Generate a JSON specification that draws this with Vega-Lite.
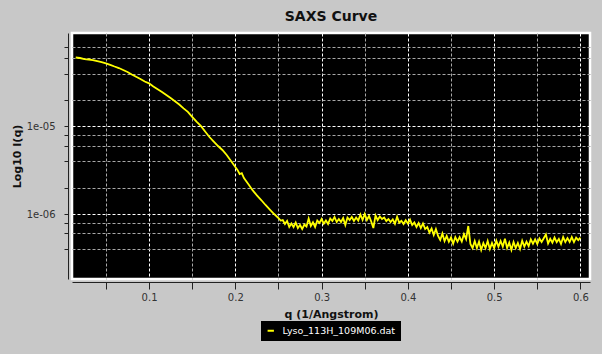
{
  "$schema": "https://vega.github.io/schema/vega-lite/v6.json",
  "width": 518,
  "height": 246,
  "autosize": {"type": "none"},
  "padding": {"left": 72, "top": 33, "right": 12, "bottom": 75},
  "background": "#c8c8c8",
  "title": {"text": "SAXS Curve", "font": "DejaVu Sans", "fontSize": 14, "fontWeight": "bold", "color": "#111111", "offset": 9, "anchor": "middle"},
  "config": {
    "view": {"fill": "#000000", "stroke": "#ffffff", "strokeWidth": 2.5},
    "axis": {"labelFont": "DejaVu Sans", "labelFontSize": 10, "labelColor": "#333333", "titleFont": "DejaVu Sans", "titleFontSize": 11, "titleFontWeight": "bold", "titleColor": "#111111", "domainColor": "#222222", "tickColor": "#222222", "gridDash": [3, 2], "gridWidth": 1}
  },
  "data": {"values": [
    {"q":0.015,"I":6.09e-5},{"q":0.02,"I":6.01e-5},{"q":0.025,"I":5.85e-5},{"q":0.03,"I":5.78e-5},{"q":0.035,"I":5.70e-5},{"q":0.04,"I":5.55e-5},{"q":0.045,"I":5.41e-5},{"q":0.05,"I":5.23e-5},{"q":0.055,"I":5.03e-5},{"q":0.06,"I":4.81e-5},{"q":0.065,"I":4.62e-5},{"q":0.07,"I":4.39e-5},{"q":0.075,"I":4.16e-5},{"q":0.08,"I":3.90e-5},{"q":0.085,"I":3.67e-5},{"q":0.09,"I":3.46e-5},{"q":0.095,"I":3.24e-5},{"q":0.1,"I":3.09e-5},{"q":0.105,"I":2.84e-5},{"q":0.11,"I":2.64e-5},{"q":0.115,"I":2.46e-5},{"q":0.12,"I":2.27e-5},{"q":0.125,"I":2.10e-5},{"q":0.13,"I":1.93e-5},{"q":0.135,"I":1.77e-5},{"q":0.14,"I":1.60e-5},{"q":0.145,"I":1.46e-5},{"q":0.15,"I":1.28e-5},{"q":0.155,"I":1.13e-5},{"q":0.16,"I":1.01e-5},{"q":0.165,"I":8.72e-6},{"q":0.17,"I":7.55e-6},{"q":0.175,"I":6.71e-6},{"q":0.18,"I":5.96e-6},{"q":0.185,"I":5.37e-6},{"q":0.19,"I":4.71e-6},{"q":0.195,"I":4.02e-6},{"q":0.2,"I":3.43e-6},{"q":0.2025,"I":3.18e-6},{"q":0.205,"I":2.86e-6},{"q":0.2075,"I":2.93e-6},{"q":0.21,"I":2.57e-6},{"q":0.215,"I":2.20e-6},{"q":0.22,"I":1.87e-6},{"q":0.225,"I":1.63e-6},{"q":0.23,"I":1.444e-6},{"q":0.235,"I":1.267e-6},{"q":0.24,"I":1.125e-6},{"q":0.245,"I":1.0e-6},{"q":0.25,"I":9.0e-7},
    {"q":0.2525,"I":8.43e-7},{"q":0.255,"I":8.54e-7},{"q":0.2575,"I":7.69e-7},{"q":0.26,"I":8.32e-7},{"q":0.2625,"I":7.11e-7},{"q":0.265,"I":7.80e-7},{"q":0.2675,"I":7.11e-7},{"q":0.27,"I":8.00e-7},{"q":0.2725,"I":6.92e-7},{"q":0.275,"I":7.49e-7},{"q":0.2775,"I":6.74e-7},{"q":0.28,"I":7.59e-7},{"q":0.2825,"I":7.20e-7},{"q":0.285,"I":8.88e-7},{"q":0.2875,"I":7.30e-7},{"q":0.29,"I":8.05e-7},{"q":0.2925,"I":7.11e-7},{"q":0.295,"I":8.43e-7},{"q":0.2975,"I":7.90e-7},{"q":0.3,"I":8.77e-7},
    {"q":0.3025,"I":7.75e-7},{"q":0.305,"I":8.43e-7},{"q":0.3075,"I":7.69e-7},{"q":0.31,"I":8.88e-7},{"q":0.3125,"I":8.32e-7},{"q":0.315,"I":9.24e-7},{"q":0.3175,"I":8.10e-7},{"q":0.32,"I":8.77e-7},{"q":0.3225,"I":8.10e-7},{"q":0.325,"I":9.00e-7},{"q":0.3275,"I":7.49e-7},{"q":0.33,"I":9.12e-7},{"q":0.3325,"I":8.54e-7},{"q":0.335,"I":9.24e-7},{"q":0.3375,"I":8.32e-7},{"q":0.34,"I":9.12e-7},{"q":0.3425,"I":8.43e-7},{"q":0.345,"I":9.87e-7},{"q":0.3475,"I":8.54e-7},{"q":0.35,"I":1.0e-6},
    {"q":0.3525,"I":8.54e-7},{"q":0.355,"I":9.49e-7},{"q":0.3575,"I":8.21e-7},{"q":0.36,"I":6.92e-7},{"q":0.3625,"I":9.61e-7},{"q":0.365,"I":8.54e-7},{"q":0.3675,"I":9.36e-7},{"q":0.37,"I":8.77e-7},{"q":0.3725,"I":9.12e-7},{"q":0.375,"I":8.32e-7},{"q":0.3775,"I":8.77e-7},{"q":0.38,"I":8.10e-7},{"q":0.3825,"I":8.70e-7},{"q":0.385,"I":7.75e-7},{"q":0.3875,"I":9.31e-7},{"q":0.39,"I":7.96e-7},{"q":0.3925,"I":8.37e-7},{"q":0.395,"I":7.69e-7},{"q":0.3975,"I":8.50e-7},{"q":0.4,"I":7.80e-7},
    {"q":0.4025,"I":8.62e-7},{"q":0.405,"I":7.49e-7},{"q":0.4075,"I":8.00e-7},{"q":0.41,"I":7.11e-7},{"q":0.4125,"I":7.90e-7},{"q":0.415,"I":6.92e-7},{"q":0.4175,"I":7.80e-7},{"q":0.42,"I":6.74e-7},{"q":0.4225,"I":7.11e-7},{"q":0.425,"I":6.15e-7},{"q":0.4275,"I":6.83e-7},{"q":0.43,"I":5.76e-7},{"q":0.4325,"I":6.74e-7},{"q":0.435,"I":5.61e-7},{"q":0.4375,"I":5.05e-7},{"q":0.44,"I":5.99e-7},{"q":0.4425,"I":4.92e-7},{"q":0.445,"I":5.61e-7},{"q":0.4475,"I":4.83e-7},{"q":0.45,"I":5.39e-7},
    {"q":0.4525,"I":4.59e-7},{"q":0.455,"I":5.46e-7},{"q":0.4575,"I":4.85e-7},{"q":0.46,"I":5.46e-7},{"q":0.4625,"I":4.85e-7},{"q":0.465,"I":5.91e-7},{"q":0.4675,"I":5.19e-7},{"q":0.47,"I":7.30e-7},{"q":0.4725,"I":4.55e-7},{"q":0.475,"I":4.09e-7},{"q":0.4775,"I":4.92e-7},{"q":0.48,"I":4.09e-7},{"q":0.4825,"I":4.85e-7},{"q":0.485,"I":3.89e-7},{"q":0.4875,"I":4.67e-7},{"q":0.49,"I":4.09e-7},{"q":0.4925,"I":4.92e-7},{"q":0.495,"I":3.99e-7},{"q":0.4975,"I":4.67e-7},{"q":0.5,"I":4.09e-7},
    {"q":0.5025,"I":4.96e-7},{"q":0.505,"I":4.25e-7},{"q":0.5075,"I":4.92e-7},{"q":0.51,"I":4.25e-7},{"q":0.5125,"I":5.22e-7},{"q":0.515,"I":4.09e-7},{"q":0.5175,"I":4.73e-7},{"q":0.52,"I":3.89e-7},{"q":0.5225,"I":4.79e-7},{"q":0.525,"I":4.09e-7},{"q":0.5275,"I":4.67e-7},{"q":0.53,"I":3.99e-7},{"q":0.5325,"I":4.96e-7},{"q":0.535,"I":4.25e-7},{"q":0.5375,"I":4.83e-7},{"q":0.54,"I":4.31e-7},{"q":0.5425,"I":5.15e-7},{"q":0.545,"I":4.59e-7},{"q":0.5475,"I":5.15e-7},{"q":0.55,"I":4.55e-7},
    {"q":0.5525,"I":5.25e-7},{"q":0.555,"I":4.79e-7},{"q":0.5575,"I":5.29e-7},{"q":0.56,"I":5.84e-7},{"q":0.5625,"I":4.60e-7},{"q":0.565,"I":5.22e-7},{"q":0.5675,"I":4.72e-7},{"q":0.57,"I":5.39e-7},{"q":0.5725,"I":4.77e-7},{"q":0.575,"I":5.19e-7},{"q":0.5775,"I":4.55e-7},{"q":0.58,"I":5.46e-7},{"q":0.5825,"I":4.79e-7},{"q":0.585,"I":5.32e-7},{"q":0.5875,"I":4.79e-7},{"q":0.59,"I":5.46e-7},{"q":0.5925,"I":4.79e-7},{"q":0.595,"I":5.39e-7},{"q":0.5975,"I":5.05e-7},{"q":0.6,"I":5.39e-7}
  ]},
  "transform": [{"calculate": "'Lyso_113H_109M06.dat'", "as": "series"}],
  "mark": {"type": "line", "strokeWidth": 1.8, "interpolate": "linear"},
  "encoding": {
    "x": {
      "field": "q", "type": "quantitative", "title": "q (1/Angstrom)",
      "scale": {"domain": [0.0107, 0.6111], "nice": false, "zero": false},
      "axis": {
        "values": [0.05, 0.1, 0.15, 0.2, 0.25, 0.3, 0.35, 0.4, 0.45, 0.5, 0.55, 0.6],
        "labelExpr": "abs(datum.value*10 - round(datum.value*10)) < 0.001 ? format(datum.value, '.1f') : ''",
        "offset": 3, "tickSize": 7, "labelPadding": 3, "titlePadding": 6,
        "gridColor": {"condition": {"test": "abs(datum.value*10 - round(datum.value*10)) < 0.001", "value": "#ffffff"}, "value": "#a8a8a8"},
        "labelFlush": false, "labelOverlap": false
      }
    },
    "y": {
      "field": "I", "type": "quantitative", "title": "Log10 I(q)",
      "scale": {"type": "log", "domain": [1.815e-7, 1.159e-4], "nice": false},
      "axis": {
        "values": [4e-7, 6e-7, 8e-7, 1e-6, 2e-6, 4e-6, 6e-6, 8e-6, 1e-5, 2e-5, 4e-5, 6e-5, 8e-5],
        "labelExpr": "abs(log(datum.value)/LN10 - round(log(datum.value)/LN10)) < 0.001 ? ('1e-0' + (-round(log(datum.value)/LN10))) : ''",
        "offset": 4, "tickSize": 4, "labelPadding": 9, "titlePadding": 4,
        "gridColor": {"condition": {"test": "abs(log(datum.value)/LN10 - round(log(datum.value)/LN10)) < 0.001", "value": "#ffffff"}, "value": "#a8a8a8"},
        "labelOverlap": false, "labelFlush": false
      }
    },
    "color": {
      "field": "series", "type": "nominal",
      "scale": {"range": ["#ffff00"]},
      "legend": {
        "title": null, "orient": "none", "legendX": 189, "legendY": 288,
        "fillColor": "#000000", "padding": 5, "labelColor": "#ffffff",
        "labelFont": "DejaVu Sans", "labelFontSize": 9.5, "labelOffset": 7,
        "symbolType": "stroke", "symbolSize": 40, "symbolStrokeWidth": 2, "symbolStrokeColor": "#ffff00"
      }
    }
  }
}
